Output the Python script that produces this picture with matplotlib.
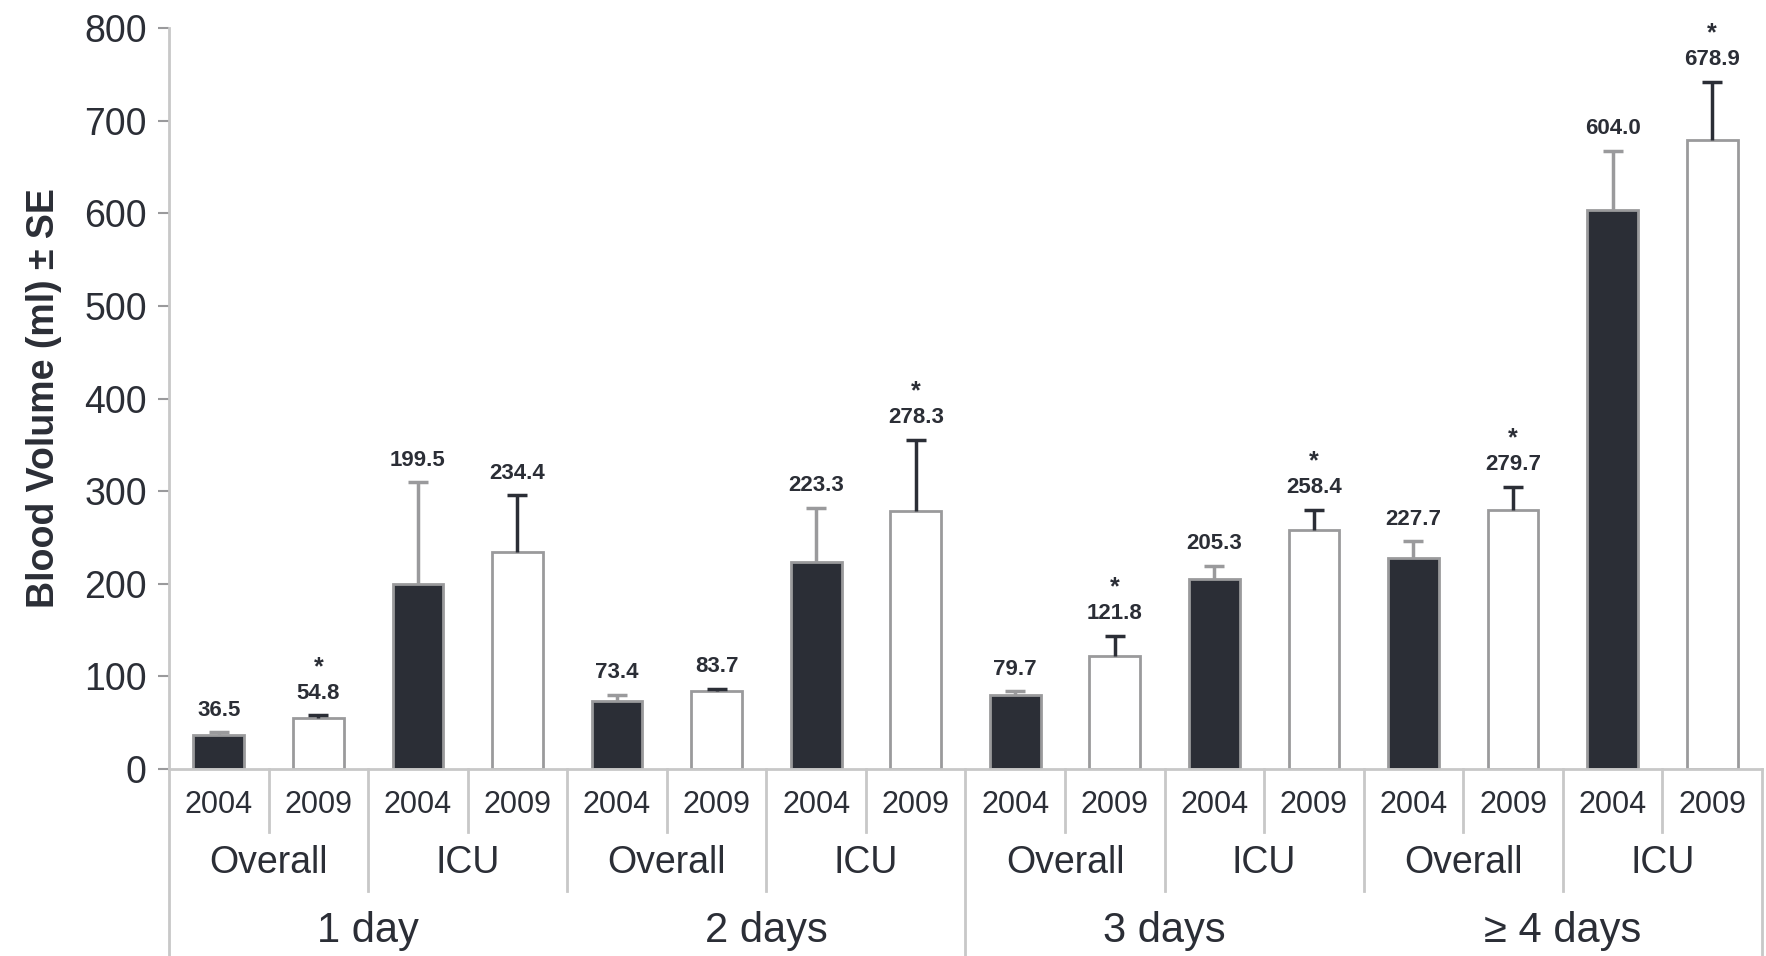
import numpy as np
import matplotlib.pyplot as plt
from matplotlib import transforms

plt.rcParams['font.family'] = ['Liberation Sans', 'DejaVu Sans']

# data
days = ['1 day', '2 days', '3 days', '\u2265 4 days']
groups = ['Overall', 'ICU']
years = ['2004', '2009']
means = [36.5, 54.8, 199.5, 234.4,
         73.4, 83.7, 223.3, 278.3,
         79.7, 121.8, 205.3, 258.4,
         227.7, 279.7, 604.0, 678.9]
se = [3, 3, 110, 61,
      7, 3, 59, 77,
      4, 22, 14, 21,
      18, 25, 63, 63]
starred = [False, True, False, False,
           False, False, False, True,
           False, True, False, True,
           False, True, False, True]

dark = '#2b2e36'
edge = '#9a9a9c'
sep = '#c8c8c8'

fig = plt.figure(figsize=(17.66, 9.56), dpi=100)
ax = fig.add_axes([0.0957, 0.1956, 0.902, 0.7751])

for i, (m, s) in enumerate(zip(means, se)):
    is_2004 = i % 2 == 0
    ecol = edge if is_2004 else dark
    ax.bar(i, m, width=0.51, color=dark if is_2004 else 'white',
           edgecolor=edge, linewidth=2, zorder=2)
    # upper error only, cap at the top
    ax.vlines(i, m, m + s, color=ecol, lw=2.5, zorder=3)
    ax.plot(i, m + s, marker='_', ms=14, mew=2.5, color=ecol, zorder=3)
    ax.annotate(f'{m:.1f}', (i, m + s), xytext=(0, 16), textcoords='offset points',
                ha='center', va='center', fontsize=16, color=dark,
                fontweight='bold')
    if starred[i]:
        ax.annotate('*', (i, m + s), xytext=(0, 35), textcoords='offset points',
                    ha='center', va='center', fontsize=18, color=dark,
                    fontweight='bold')

ax.set_xlim(-0.5, len(means) - 0.5)
ax.set_ylim(0, 800)
ax.set_yticks(range(0, 801, 100))
ax.tick_params(axis='y', labelsize=27, colors=edge, labelcolor=dark,
               length=8, width=1.5, pad=8)
ax.set_xticks([])
for side in ['top', 'right']:
    ax.spines[side].set_visible(False)
ax.spines['left'].set_color(sep)
ax.spines['left'].set_linewidth(2)
ax.spines['bottom'].set_color(sep)
ax.spines['bottom'].set_linewidth(2)

ax.set_ylabel('Blood Volume (ml) \u00b1 SE', fontsize=27, fontweight='bold',
              color=dark, labelpad=16)

# multi-level category axis
tr = transforms.blended_transform_factory(ax.transData, ax.transAxes)
for k in range(len(means) + 1):
    b = k - 0.5
    if k % 8 == 0:
        bottom = -0.26
    elif k % 2 == 0:
        bottom = -0.165
    else:
        bottom = -0.085
    ax.plot([b, b], [0, bottom], transform=tr, color=sep, lw=2, clip_on=False)

for i in range(len(means)):
    ax.text(i, -0.048, years[i % 2], transform=tr, ha='center', va='center',
            fontsize=22, color=dark)
for g in range(len(means) // 2):
    ax.text(2 * g + 0.5, -0.127, groups[g % 2], transform=tr, ha='center',
            va='center', fontsize=27, color=dark)
for d, name in enumerate(days):
    ax.text(4 * d + 1.5, -0.219, name, transform=tr, ha='center', va='center',
            fontsize=30, color=dark)

fig.savefig('out.png', dpi=100)
